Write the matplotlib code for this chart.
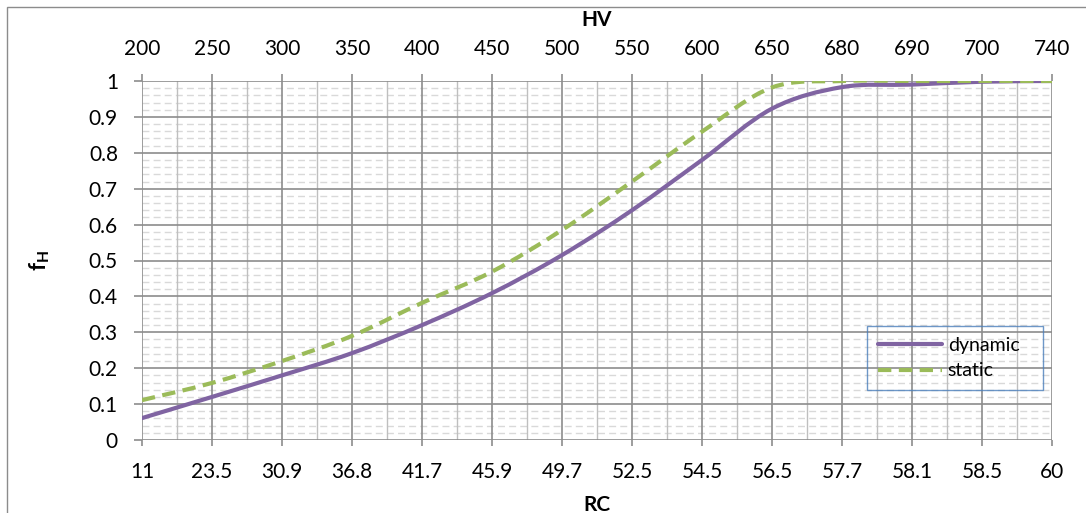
import matplotlib
matplotlib.use("Agg")
import matplotlib.pyplot as plt
from matplotlib.path import Path
from matplotlib.patches import PathPatch, Rectangle
from matplotlib.lines import Line2D
import numpy as np

plt.rcParams['font.family'] = ['Lato', 'DejaVu Sans']
plt.rcParams['mathtext.fontset'] = 'custom'
plt.rcParams['mathtext.bf'] = 'Lato:bold'
plt.rcParams['mathtext.rm'] = 'Lato'

rc_labels = ['11', '23.5', '30.9', '36.8', '41.7', '45.9', '49.7', '52.5', '54.5',
             '56.5', '57.7', '58.1', '58.5', '60']
hv_labels = ['200', '250', '300', '350', '400', '450', '500', '550', '600',
             '650', '680', '690', '700', '740']
dynamic = [0.061, 0.12, 0.18, 0.242, 0.32, 0.409, 0.515, 0.64, 0.78,
           0.923, 0.983, 0.99, 0.998, 1.0]
static = [0.111, 0.159, 0.22, 0.29, 0.382, 0.469, 0.585, 0.72, 0.859,
          0.982, 1.0, 1.0, 1.0, 1.0]

PURPLE = '#8064A2'
GREEN = '#9BBB59'
GRID = '#8c8c8c'

fig = plt.figure(figsize=(10.86, 5.13), dpi=100)
ax = fig.add_axes([142/1086, 1-440/513, 910/1086, 359/513])

n = len(rc_labels)
xs = np.arange(n)

def smooth_path(x, y):
    pts = np.column_stack([x, y]).astype(float)
    verts = [pts[0]]
    codes = [Path.MOVETO]
    for i in range(len(pts)-1):
        p0 = pts[i-1] if i > 0 else pts[i]
        p1 = pts[i]
        p2 = pts[i+1]
        p3 = pts[i+2] if i+2 < len(pts) else pts[i+1]
        c1 = p1 + (p2 - p0) / 6.0
        c2 = p2 - (p3 - p1) / 6.0
        verts += [c1, c2, p2]
        codes += [Path.CURVE4]*3
    return Path(verts, codes)

# grid
for v in np.arange(0, 1.0001, 0.02):
    if abs(v*10 - round(v*10)) < 1e-6:
        continue
    ax.axhline(v, color='#d9d9d9', lw=1.0, ls=(0, (5, 3)), zorder=1)
for i in range(n-1):
    ax.axvline(i+0.5, color='#bfbfbf', lw=1.0, zorder=1.5)
for v in np.arange(0, 1.0001, 0.1):
    ax.axhline(v, color=GRID, lw=1.2, zorder=2)
for i in range(n):
    ax.axvline(i, color=GRID, lw=1.2, zorder=2)

ax.add_patch(PathPatch(smooth_path(xs, dynamic), facecolor='none', edgecolor=PURPLE,
                       lw=3.0, zorder=5, capstyle='round', joinstyle='round'))
ax.add_patch(PathPatch(smooth_path(xs, static), facecolor='none', edgecolor=GREEN,
                       lw=3.0, ls=(0, (3.2, 1.8)), zorder=6, capstyle='butt'))

ax.set_xlim(0, n-1)
ax.set_ylim(0, 1)
for s in ax.spines.values():
    s.set_visible(False)

ax.set_xticks(xs)
ax.set_xticklabels(rc_labels)
ax.set_yticks(np.arange(0, 1.0001, 0.1))
ax.set_yticklabels(['0', '0.1', '0.2', '0.3', '0.4', '0.5', '0.6', '0.7', '0.8', '0.9', '1'])
ax.tick_params(axis='x', length=4.5, width=1.2, color=GRID, labelsize=15, pad=11.5)
ax.tick_params(axis='y', length=5.8, width=1.2, color=GRID, labelsize=15, pad=11.5)

ax2 = ax.twiny()
ax2.set_xlim(ax.get_xlim())
ax2.set_xticks(xs)
ax2.set_xticklabels(hv_labels)
ax2.tick_params(axis='x', length=5, width=1.2, color=GRID, labelsize=15, pad=11)
for s in ax2.spines.values():
    s.set_visible(False)

ax.set_xlabel('RC', fontsize=15, fontweight='bold', labelpad=9)
ax2.set_xlabel('HV', fontsize=15, fontweight='bold', labelpad=9)
ax.set_ylabel(r'$\mathbf{f_H}$', fontsize=16)
ax.yaxis.set_label_coords(-0.099, 0.5)

handles = [Line2D([], [], color=PURPLE, lw=3.0, solid_capstyle='round'),
           Line2D([], [], color=GREEN, lw=3.0, ls=(0, (3.2, 1.8)))]
leg = ax.legend(handles, ['dynamic', 'static'], loc='upper left',
                bbox_to_anchor=((867-142)/910, (440-391)/359, (1043-867)/910, (391-326)/359),
                mode='expand',
                fontsize=14, frameon=True, fancybox=False, handlelength=3.3,
                borderpad=0.55, labelspacing=0.45, handletextpad=0.3,
                borderaxespad=0)
leg.get_frame().set_edgecolor('#4a7ebb')
leg.get_frame().set_facecolor('none')
leg.get_frame().set_linewidth(1.0)
leg.set_zorder(10)

fig.add_artist(Rectangle((7/1086, -0.05), 1.1, 1.05 - 7/513,
                         transform=fig.transFigure, fill=False,
                         edgecolor='#8c8c8c', lw=1.0))

fig.savefig('out.png', dpi=100)
